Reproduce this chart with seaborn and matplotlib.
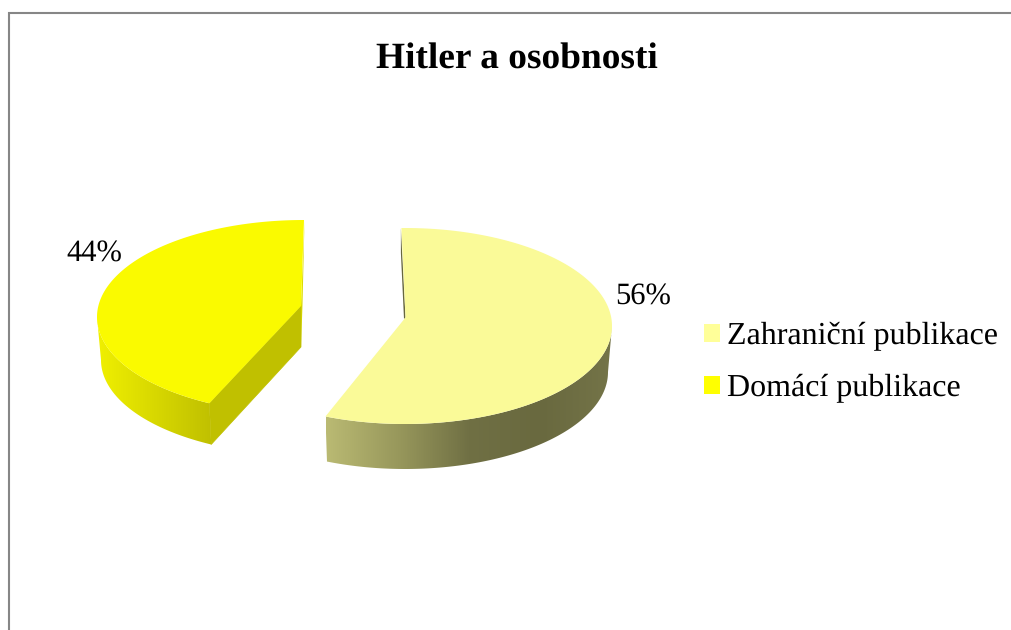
import numpy as np
import matplotlib
matplotlib.use("Agg")
import matplotlib.pyplot as plt
from matplotlib.patches import Patch, Polygon
import seaborn as sns

# ---- data ----
title = "Hitler a osobnosti"
categories = ["Zahraniční publikace", "Domácí publikace"]
values = [56, 44]

sns.set_theme(style="white")
plt.rcParams["font.family"] = ["Liberation Serif", "DejaVu Serif"]
plt.rcParams["text.hinting"] = "no_hinting"

top_colors = ["#FAFA98", "#FAFA00"]
legend_colors = ["#FFFF99", "#FFFF00"]
wall_knots = [
    ["#BABA73", "#98985C", "#707044", "#69693F", "#747448"],
    ["#F0F000", "#D8D800", "#C0C000"],
]

fig = plt.figure(figsize=(10.11, 6.30), dpi=100, facecolor="white")
ax = fig.add_axes([0, 0, 1, 1])

# Frame (only the top and left edges fall inside the crop)
ax.plot([9, 9, 1011], [630, 13, 13], color="#868686", lw=1.5, solid_joinstyle="miter")

sweeps = 3.6 * np.array(values, dtype=float)
starts = np.concatenate([[0.0], np.cumsum(sweeps)[:-1]])


def rim(c, r, t):
    t = np.radians(t)
    return c[0] + r[0] * np.sin(t), c[1] - r[1] * np.cos(t)


# Per-slice projection of the exploded 3D pie
geometry = [
    dict(top_c=(405, 326), top_r=(207, 98), bot_c=(405, 372), bot_r=(203, 97),
         apex=(405.5, 317.5), nudge=(-1.0, 1.0), xr=(326, 612)),
    dict(top_c=(304, 317), top_r=(207, 97), bot_c=(304, 360), bot_r=(203, 95),
         apex=(301, 306), nudge=(5.6, 0.0), xr=(97, 212)),
]

for i, g in enumerate(geometry):
    t0 = starts[i] + g["nudge"][0]
    t1 = starts[i] + sweeps[i] + g["nudge"][1]
    ramp = np.array(sns.blend_palette(wall_knots[i], n_colors=256))[:, :3][None, :, :]
    # Outer curved wall: a horizontal shading ramp clipped to the wall outline
    ts = np.linspace(max(t0, 90), min(t1, 270), 200)
    tx, ty = rim(g["top_c"], g["top_r"], ts)
    bx, by = rim(g["bot_c"], g["bot_r"], ts[::-1])
    outline = Polygon(np.c_[np.r_[tx, bx], np.r_[ty, by]], closed=True, transform=ax.transData)
    im = ax.imshow(ramp, extent=(g["xr"][0], g["xr"][1], 480, 300), aspect="auto",
                   interpolation="bilinear", zorder=2)
    im.set_clip_path(outline)
    # Cut walls
    if i == 0:
        sx, sy = rim(g["top_c"], g["top_r"], t0)
        ax.fill([sx - 0.5, sx - 0.5, 404, g["apex"][0]], [sy, sy + 25, 319, g["apex"][1]],
                color="#67673E", lw=0, zorder=2)
    else:
        ex, ey = rim(g["top_c"], g["top_r"], t1)
        ax.fill([ex + 0.5, g["apex"][0], g["apex"][0], 302.5],
                [ey, g["apex"][1], g["apex"][1] + 41, 305],
                color="#DCDC00", lw=0, zorder=2)
        cx, cy = rim(g["top_c"], g["top_r"], t0)
        kx, ky = rim(g["bot_c"], g["bot_r"], t0)
        ax.fill([g["apex"][0], cx, kx, g["apex"][0]],
                [g["apex"][1], cy, ky, g["apex"][1] + 41],
                color="#C0C000", lw=0.5, zorder=3)
    # Top face
    ts = np.linspace(t0, t1, 300)
    xs, ys = rim(g["top_c"], g["top_r"], ts)
    ax.fill(np.r_[g["apex"][0], xs], np.r_[g["apex"][1], ys], color=top_colors[i], lw=0, zorder=4)

ax.set_xlim(0, 1011)
ax.set_ylim(630, 0)
ax.axis("off")

# Texts
ax.text(517, 69, title, ha="center", va="baseline", fontsize=26.9, fontweight="bold", color="black")
label_pos = [(615, 305), (66, 262)]
for v, (x, y) in zip(values, label_pos):
    ax.text(x, y, f"{v}%", ha="left", va="baseline", fontsize=22, color="black")

handles = [Patch(facecolor=c, edgecolor="none") for c in legend_colors]
ax.legend(handles, categories, loc="upper left", bbox_to_anchor=(704, 322),
          bbox_transform=ax.transData, frameon=False, fontsize=23,
          handlelength=0.5, handleheight=0.5, handletextpad=0.22,
          labelspacing=0.71, borderpad=0, borderaxespad=0, labelcolor="black")

fig.savefig("out.png", dpi=100, facecolor="white")
